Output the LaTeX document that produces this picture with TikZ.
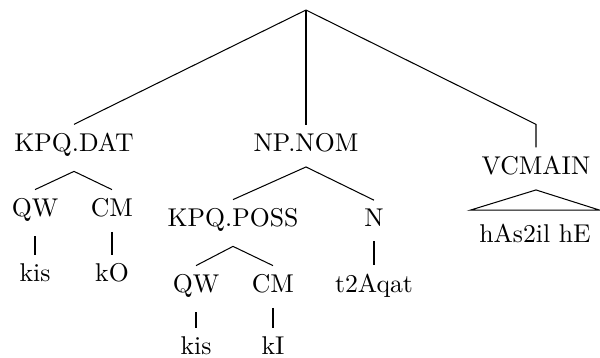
\documentclass[tikz,border=0pt]{standalone}
\usetikzlibrary{arrows.meta}

\begin{document}
\begin{tikzpicture}[x=0.389pt, y=-0.389pt, lbl/.style={anchor=base, inner sep=3.4pt}]
\useasboundingbox (0,0) rectangle (600,358);
\coordinate (top) at (306,10);
% labels, placed on their baselines
\foreach \nm/\x/\y/\t in {kd/74/152/KPQ.DAT, np/306/152/NP.NOM, vc/536/175/VCMAIN,
  qa/35/217/QW, ca/112/217/CM, wa/35/282/kis, wb/112/282/kO,
  kp/233/227/KPQ.POSS, nn/374/227/N, wn/374/293/t2Aqat,
  qb/196/293/QW, cb/273/293/CM, wc/196/355/kis, wd/273/355/kI,
  hv/535/243/hAs2il hE}{
  \node[lbl] (\nm) at (\x,\y) {\t};
}
\draw (top) -- (kd.north);
\draw (top) -- (np.north);
\draw (top) -- (vc.north |- kd.north) -- (vc.north);
\foreach \a/\b in {kd/qa,kd/ca,qa/wa,ca/wb,np/kp,np/nn,nn/wn,kp/qb,kp/cb,qb/wc,cb/wd}{
  \draw ([yshift=-2pt]\a.south) -- (\b.north);
}
% roof over the verb group
\draw ([yshift=2pt]hv.north west) -- ([yshift=-2pt]vc.south) -- ([yshift=2pt]hv.north east) -- cycle;
\end{tikzpicture}
\end{document}
